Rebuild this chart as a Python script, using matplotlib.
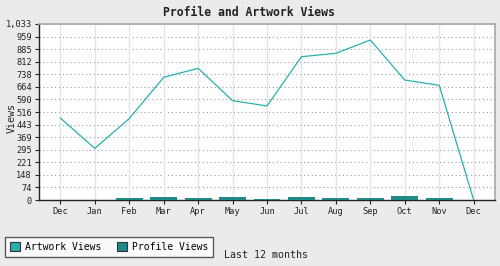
import matplotlib

matplotlib.use("Agg")
import matplotlib.pyplot as plt
import numpy as np
from matplotlib.patches import Patch

# ── data ──────────────────────────────────────────────────────────────────────

months = ["Dec", "Jan", "Feb", "Mar", "Apr", "May", "Jun",
          "Jul", "Aug", "Sep", "Oct", "Nov", "Dec"]
artwork_views = [481, 303, 478, 720, 773, 583, 552, 841, 861, 939, 704, 673, 0]
profile_views = [0, 0, 9, 19, 9, 15, 8, 19, 14, 14, 23, 14, 0]
y_max = 1033
y_ticks = [round(y_max * k / 14) for k in range(15)]

# ── style ─────────────────────────────────────────────────────────────────────

BG = "#ebebeb"
ARTWORK = "#2aafb0"
PROFILE = "#1f8a86"
INK = "#222222"

plt.rcParams["font.family"] = "DejaVu Sans Mono"

fig = plt.figure(figsize=(5.0, 2.66), dpi=100, facecolor=BG)
ax = fig.add_axes([39 / 500, 66 / 266, 456 / 500, 176 / 266])
ax.set_facecolor("white")

x = np.arange(len(months))
ax.bar(x, profile_views, width=0.78, color=PROFILE, edgecolor="none", zorder=3)
ax.plot(x, artwork_views, color=ARTWORK, linewidth=0.9, zorder=4)

ax.set_xlim(-0.62, len(months) - 1 + 0.62)
ax.set_ylim(0, y_max)
ax.set_xticks(x)
ax.set_xticklabels(months, fontsize=6.2, color=INK)
ax.set_yticks(y_ticks)
ax.set_yticklabels([f"{v:,}" for v in y_ticks], fontsize=6.2, color=INK)
ax.tick_params(axis="both", length=3, width=0.8, color=INK, pad=2)

# grid: solid light verticals, dotted horizontals
for xi in x:
    ax.axvline(xi, color="#e4e4e4", linewidth=1.0, zorder=1)
ax.yaxis.grid(True, linestyle=(0, (1, 2.5)), color="#999999", linewidth=0.8, zorder=1)
ax.set_axisbelow(True)

for side in ("top", "right"):
    ax.spines[side].set_color("#a8a8a8")
    ax.spines[side].set_linewidth(1.2)
for side in ("left", "bottom"):
    ax.spines[side].set_color(INK)
    ax.spines[side].set_linewidth(1.0)

fig.text(12 / 500, 1 - 118 / 266, "Views", rotation=90, ha="center", va="center",
         fontsize=7.2, color=INK)
fig.text(249 / 500, 1 - 12 / 266, "Profile and Artwork Views", ha="center", va="center",
         fontsize=8.3, fontweight="bold", color=INK)

handles = [Patch(facecolor=ARTWORK, edgecolor="#333333", linewidth=0.8, label="Artwork Views"),
           Patch(facecolor=PROFILE, edgecolor="#333333", linewidth=0.8, label="Profile Views")]
leg = fig.legend(handles=handles, loc="lower left", bbox_to_anchor=(5 / 500, 9 / 266),
                 ncol=2, fontsize=7, frameon=True, fancybox=False, borderpad=0.5,
                 handlelength=1.05, handleheight=1.05, handletextpad=0.5,
                 columnspacing=1.6, borderaxespad=0)
leg.get_frame().set_edgecolor("#333333")
leg.get_frame().set_linewidth(1.0)
leg.get_frame().set_facecolor("white")

fig.text(224 / 500, 1 - 255 / 266, "Last 12 months", ha="left", va="center",
         fontsize=7.2, color=INK)

fig.savefig("out.png", dpi=100, facecolor=BG)
